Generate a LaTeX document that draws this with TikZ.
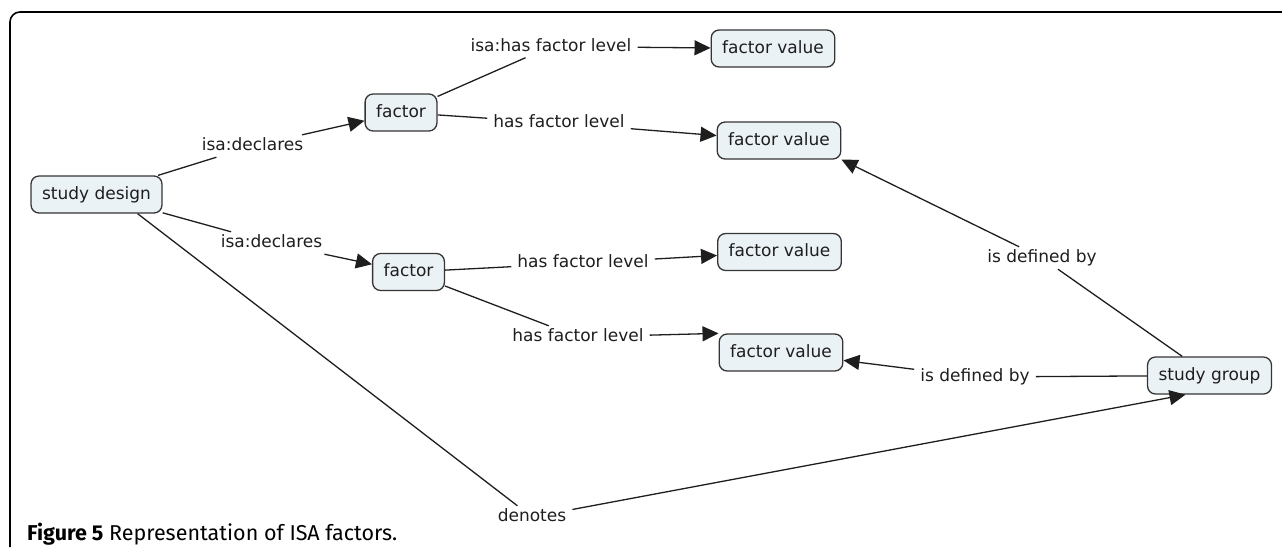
\documentclass[tikz,border=0pt]{standalone}
\usepackage{fontspec}
\setmainfont{DejaVu Sans}
\newfontfamily\capfont{Fira Sans}
\usepackage{tikz}
\usetikzlibrary{arrows.meta}

\definecolor{conceptfill}{RGB}{235,242,246}
\definecolor{linkgray}{RGB}{30,30,30}

\begin{document}
\begin{tikzpicture}[x=1pt, y=-1pt,
  concept/.style={draw=linkgray!90, line width=1.3pt, fill=conceptfill, rounded corners=8pt,
    minimum height=37pt, inner xsep=11pt, text height=12.5pt, text depth=3.5pt,
    font=\fontsize{17}{20}\selectfont, text=linkgray},
  linkname/.style={inner xsep=6pt, inner ysep=3pt, text height=12.5pt, text depth=3.5pt,
    font=\fontsize{17}{20}\selectfont, text=linkgray},
  link/.style={draw=linkgray, line width=1.3pt},
  linkto/.style={link, -{Triangle[length=16pt, width=15pt]}}]
\useasboundingbox (0,0) rectangle (1282,547);

\draw[line width=1.6pt, rounded corners=10pt] (10,547) -- (10,12) -- (1282,12);

\node[concept] (design) at (96.5,194.5) {study design};
\node[concept] (factorA) at (401,112.5) {factor};
\node[concept] (factorB) at (408.5,272) {factor};
\node[concept] (valueA) at (773,48.5) {factor value};
\node[concept] (valueB) at (779,140.5) {factor value};
\node[concept] (valueC) at (779.5,252) {factor value};
\node[concept] (valueD) at (781,352.5) {factor value};
\node[concept] (group) at (1209.5,375.5) {study group};

\node[linkname] (declA) at (252.5,146) {isa:declares};
\node[linkname] (declB) at (271.5,243) {isa:declares};
\node[linkname] (isalevel) at (551,46.5) {isa:has factor level};
\node[linkname] (levelA) at (559,123) {has factor level};
\node[linkname] (levelB) at (583,263) {has factor level};
\node[linkname] (levelC) at (578,337) {has factor level};
\node[linkname] (defA) at (1042,258) {is defined by};
\node[linkname] (defB) at (975,377) {is defined by};
\node[linkname] (denotes) at (532,517) {denotes};
\coordinate (groupin) at ([xshift=-24pt]group.south);

\draw[link] (design) -- (declA);
\draw[linkto] (declA) -- (factorA);
\draw[link] (design) -- (declB);
\draw[linkto] (declB) -- (factorB);

\draw[link] (factorA) -- (isalevel);
\draw[linkto] (isalevel) -- (valueA);
\draw[link] (factorA) -- (levelA);
\draw[linkto] (levelA) -- (valueB);
\draw[link] (factorB) -- (levelB);
\draw[linkto] (levelB) -- (valueC);
\draw[link] (factorB) -- (levelC);
\draw[linkto] (levelC) -- (valueD.north west);

\draw[link] (group) -- (defA);
\draw[linkto] (defA) -- (valueB.south east);
\draw[link] (group) -- (defB);
\draw[linkto] (defB) -- (valueD);

\draw[link] (design.-25) -- (denotes);
\draw[linkto] (denotes) -- (groupin);

\node[anchor=base west, inner sep=0pt, font=\capfont\fontsize{21.5}{25}\selectfont] (caption) at (27,540)
  {\textbf{Figure 5} Representation of ISA factors.};
\end{tikzpicture}
\end{document}
